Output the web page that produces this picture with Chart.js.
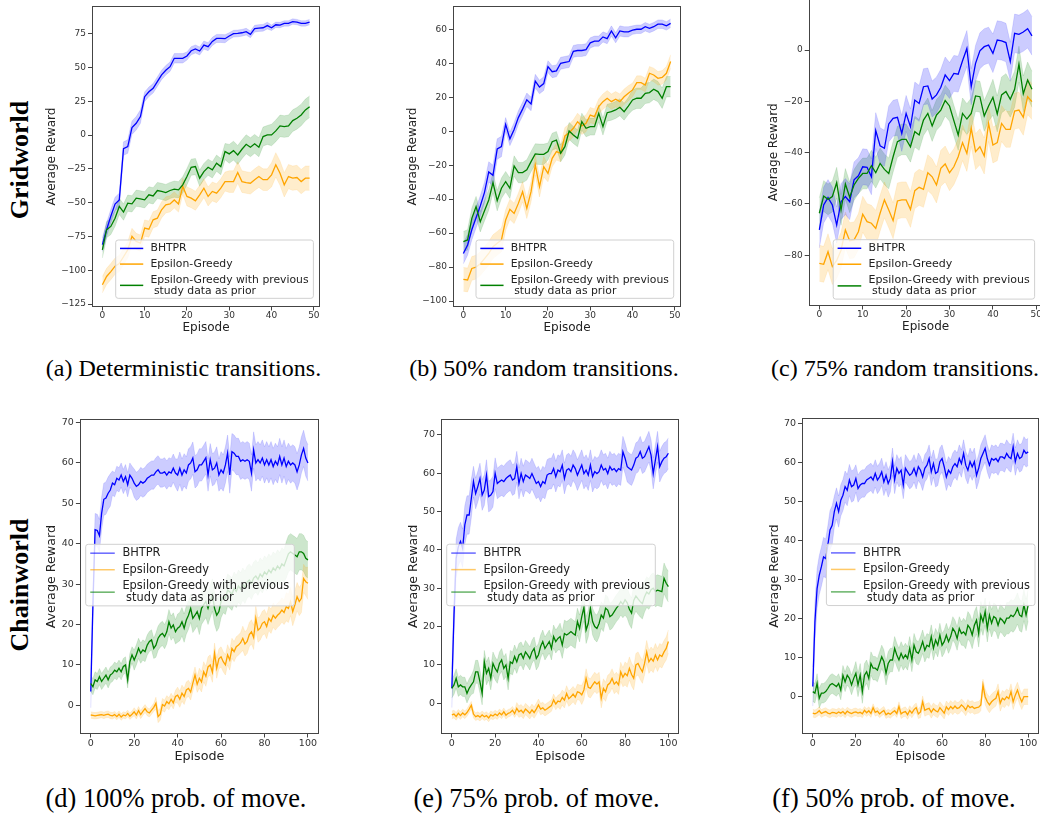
<!DOCTYPE html>
<html><head><meta charset="utf-8">
<script src="https://cdn.jsdelivr.net/npm/chart.js@4"></script>
<style>
html,body{margin:0;padding:0;width:1040px;height:814px;overflow:hidden;background:#fff;}
.cap{position:absolute;font-family:"Liberation Serif","Times New Roman",serif;font-size:24px;color:#000;white-space:nowrap;transform:translateX(-50%);line-height:24px;}
.cap2{font-size:26.4px;line-height:26px;}
.row{position:absolute;font-family:"Liberation Serif","Times New Roman",serif;font-weight:bold;font-size:26px;color:#000;white-space:nowrap;line-height:26px;transform:translate(-50%,-50%) rotate(-90deg);}
</style></head><body>
<div class="row" style="left:20px;top:160px">Gridworld</div>
<div class="row" style="left:20px;top:585px">Chainworld</div>
<div class="cap" style="left:183.5px;top:356px">(a) Deterministic transitions.</div>
<div class="cap" style="left:544px;top:356px">(b) 50% random transitions.</div>
<div class="cap" style="left:905px;top:356px">(c) 75% random transitions.</div>
<div class="cap cap2" style="left:176px;top:785px">(d) 100% prob. of move.</div>
<div class="cap cap2" style="left:536.5px;top:785px">(e) 75% prob. of move.</div>
<div class="cap cap2" style="left:894px;top:785px">(f) 50% prob. of move.</div>
<script>
// ---------- labels & ticks ----------
const seriesNames = ['BHTPR', 'Epsilon-Greedy', 'Epsilon-Greedy with previous\n study data as prior'];
const yTicksA = [-125, -100, -75, -50, -25, 0, 25, 50, 75];
const yTicksB = [-100, -80, -60, -40, -20, 0, 20, 40, 60];
const yTicksC = [-80, -60, -40, -20, 0];
const yTicksChain = [0, 10, 20, 30, 40, 50, 60, 70];
const xTicksGrid = [0, 10, 20, 30, 40, 50];
const xTicksChain = [0, 20, 40, 60, 80, 100];

// ---------- (a) Gridworld, deterministic ----------
const gridDetBHTPR = [-81,-70,-60,-51,-48,-10,-8.5,5.5,8.7,13.7, 28.4,32,34.6,39.5,44.5,48,50.6,56.8,56.8,56.8, 58.5,62.4,63.7,62.2,66.6,65.4,69.3,71.5,71.5,71.3, 73.3,75,75.2,75.7,76.5,74.5,78.7,79.2,79.4,81, 79.4,81.6,81.4,82.6,82.6,84,83.6,82.6,82.6,83.6];
const gridDetEG = [-110.7,-104.6,-101,-97,-95,-90,-85,-75,-78.7,-80, -68.8,-69.6,-62.7,-61.5,-55.3,-51.6,-50.9,-48,-51,-38, -45.4,-46.7,-48.6,-44.2,-39.3,-45.4,-41.7,-43,-39.3,-34.4, -34.4,-34.4,-27.7,-34.4,-35.1,-35.6,-33,-30.7,-33,-33, -29.4,-22,-28.2,-36.8,-30.7,-31.9,-31.4,-34.4,-31.9,-31.9];
const gridDetPrior = [-84.9,-70,-67.6,-61.5,-52.8,-57,-50.4,-50.9,-46.7,-47.2, -47.9,-44.2,-45,-41,-41.7,-42.5,-41,-40,-40.5,-36.8, -30.7,-23.8,-23.3,-31.9,-27,-23.8,-25.7,-20.8,-23.3,-12.2, -13.9,-11.5,-14.7,-10.5,-6.8,-9,-6.5,-9,-1.1,0.1, 0.1,3.1,6.8,6.3,6.8,10.7,12.4,14.9,18.6,21];
const gridDetBHTPRsd = [5, 3.5, 3, 2.5, 2];
const gridDetEGsd = [6, 6, 7, 8, 9];
const gridDetPriorsd = [6, 6, 6, 7, 8];

// ---------- (b) Gridworld, 50% random ----------
const grid50BHTPR = [-72,-67,-58,-51,-44,-36,-24,-26,-10.5,-9, 4,-4.5,1,8,13,18.5,16,29.5,26,28, 38,35,35.5,40,40.5,41,47,47.5,47.5,48, 52,53,53,55.5,54.5,59,55,59,58.5,58.5, 59.5,60,60,61.5,60.5,61.5,63,63,62,63.5];
const grid50EG = [-87.2,-87.6,-80.8,-80,-78,-75,-72,-68,-66,-64, -52.3,-46,-48.4,-42.5,-35.6,-45.4,-35.6,-19.9,-32.7,-20.9, -24.8,-16,-12,-13,-2.8,-0.9,1.7,5.6,3.1,4.6, 9.5,8.6,14.5,17.4,19.4,17.4,18.8,17.4,20.3,22.3, 24.3,28.6,28.6,27.2,34.1,33.1,31.1,31.7,34.1,41];
const grid50Prior = [-65,-64,-51.3,-44.4,-53.3,-46.8,-40.5,-30.3,-40.9,-33.6, -29.7,-33.6,-20.5,-24.4,-24.4,-22.8,-17.9,-13.4,-13.6,-13.6, -12,-6.2,-5.2,-13,-9.1,0.1,-2.2,-4.2,5.6,1.7, 2.7,2.7,10.5,2.7,10.9,11.5,12.5,14.1,11.5,14.8, 18.4,19.4,19.4,22.3,22.7,24.7,23.3,19.4,26.2,26.2];
const grid50BHTPRsd = [6, 4, 3.5, 3, 2.5];
const grid50EGsd = [7, 6, 5, 4.5, 4];
const grid50Priorsd = [6, 6, 5, 5, 6];

// ---------- (c) Gridworld, 75% random ----------
const grid75BHTPR = [-70.1,-60.4,-57.5,-60.4,-68.2,-59.1,-57.1,-59.1,-50.6,-49, -45.5,-45.7,-49.4,-31.4,-37.3,-38.3,-28.8,-26.6,-26.2,-32.5, -24.7,-29.9,-19.5,-20.8,-14.3,-14,-19.1,-17.5,-14.5,-9.7, -11.9,-9.1,-9.4,-4.2,0.6,-14.3,-5.2,-0.3,1.3,1.9, -1.3,3.9,3.6,2.9,-4.5,6.5,6.1,7,8.3,5.5];
const grid75EG = [-83.1,-83.5,-78.6,-84.4,-82,-78,-70.1,-74.3,-74,-70.8, -64,-66.9,-67.5,-69.5,-63.6,-58.4,-62.3,-66.5,-58.8,-58.4, -58.4,-62.1,-54.8,-53.5,-54.3,-47.8,-49.4,-52.6,-46.1,-44.4, -47.8,-45.5,-41.6,-36.1,-40.3,-30.5,-39.6,-37.7,-41.3,-28.6, -37,-36.1,-28.6,-30.9,-30.9,-23.8,-23.4,-26.2,-18.2,-20.1];
const grid75Prior = [-63.6,-56.9,-58.2,-57.1,-51.7,-62.3,-52.2,-57.4,-52.6,-50, -48.1,-48.1,-45.1,-47.8,-44.2,-46.5,-48.1,-41.6,-35.7,-34.8, -34.8,-37.7,-31.8,-33.1,-27.3,-24.7,-29.6,-25.3,-23.4,-19.7, -21.8,-27.5,-33.1,-24.7,-26.9,-24.7,-17.9,-18.2,-25.7,-21.8, -18.4,-24.9,-17.5,-16.2,-19.2,-15.3,-5.5,-17.1,-11.7,-15.3];
const grid75BHTPRsd = [7, 7, 7, 7, 7.5];
const grid75EGsd = [7, 7, 7, 7, 7];
const grid75Priorsd = [6, 6, 6, 6, 7];

// ---------- (d) Chainworld, 100% move ----------
const chain100BHTPR = [3.4,25,43.5,43.3,42,47.5,51,51.3,52.5,53.3, 55,54.6,56.2,55.8,57,55.4,56.6,54.6,57,56.2, 55,54.2,54.6,55.4,55,55.4,56.2,56.6,57,57, 57.8,58.3,57.5,57.5,57.8,57,57.8,57.5,58.7,57.5, 57,58.7,57,58.3,57.5,59.5,60,61.2,57.8,58.3, 59.5,59.5,60.4,61.3,57,60.8,58.3,58.7,60,57, 58.3,57.5,59.5,62.4,57,62.8,62.4,61.6,61.6,60.4, 60.8,60.4,60.8,60.4,57.5,63.2,60,60.8,60,61.2, 59.5,60.8,59.5,60.8,59.1,60.4,59.5,61.6,59.5,61.2, 59.1,60.4,59.5,60,59.5,57.8,59.5,62,63.6,61.2, 60];
const chain100EG = [-2.4,-2.5,-2.6,-2.5,-2.4,-2.3,-2.5,-2.3,-2.2,-2.5, -2.6,-2.3,-2.8,-2.2,-2.9,-2.4,-2.6,-2,-2.7,-2.2, -1.6,-2.4,-1.3,-2.3,-1.5,-0.8,-1.6,-1.9,-1.2,-0.5, 0.5,-2.8,-2.2,0.2,-0.2,0.9,0.4,1.5,0.6,2.2, 2.5,1.5,3,2.2,3.8,4.2,3.3,5.5,7.5,5.2, 6.7,5.8,8.3,7.2,9.5,10,8.2,12.9,9.2,11.5, 12,10.8,10,12.5,11.2,14.1,13.3,14.5,14.9,15.5, 16.6,15.2,15.8,17.5,18.2,16.8,21.5,18.6,19.1,20.3, 20.7,19.5,21.5,20.8,22.3,21.6,22.3,22.8,23.6,23, 24.4,24,25.7,23.2,24.9,26.9,25.7,26.5,31.4,30.6, 30.2];
const chain100Prior = [5.4,4.6,6.3,5.9,7.1,5.9,6.7,7.5,6.3,7.5, 7.9,8.7,8.3,9.2,8.3,9.6,10,6.3,10.8,12.5, 11.2,12.5,14.1,12.9,13.7,13.3,14.9,15.8,16.2,14.1, 14.9,16.6,17.4,17.8,17,18.2,20.7,19.1,19.9,18.2, 19.1,19.5,20.7,19.1,21.1,22.3,24,21.5,22.3,23.2, 21.5,24,24.9,25.7,24,25.7,27.3,24,22.3,23.2, 25.7,26.9,26.5,28.5,28.1,27.5,29,28.2,29.5,28.8, 30,29.2,30.5,31,30.2,31.5,32,31.2,32.5,31.8, 33,32.4,33.5,32.8,34,33.4,34.5,33.8,35,34.5, 36,37.5,38,37.6,37.2,36.8,38,38,37.6,36.4, 36];
const chain100BHTPRsd = [4, 3, 3.5, 3.5, 4, 4, 4.5, 4.5, 4.5, 4.5, 4.5];
const chain100EGsd = [0.8, 0.8, 1, 1.5, 2, 2.5, 2.5, 3, 3, 3.5, 4];
const chain100Priorsd = [2, 2, 2.5, 3, 3.5, 4, 4, 4, 4, 4.5, 4.5];

// ---------- (e) Chainworld, 75% move ----------
const chain75BHTPR = [3.9,23,37.8,40.8,42.2,40.4,46.5,49.1,49.1,53.4, 57.8,54.7,56.5,58.6,54.3,55.6,59.5,53.9,54.3,55.2, 60,57.3,57.8,58.2,57.8,58.6,59.1,59.5,58.2,58.6, 61.7,57.3,59.9,57.8,59.5,59.1,58.6,59.9,58.6,57.3, 57.8,56.5,57.8,57.3,59.5,59.9,59.9,61.2,59.1,60.8, 60.4,62.1,58.6,60.8,61.2,60.4,62.1,61.2,59.5,60.8, 62.1,59.9,60.8,59.5,62.1,59.1,60.4,59.9,60.4,62.1, 60.8,61.2,59.9,61.7,60.8,61.2,60.4,61.2,60.8,65.6, 63.9,61.7,61.2,60.8,62.1,63.9,64.3,65.6,63.9,64.3, 65.6,66.9,64.7,59.9,63.4,66.9,61.7,63,63.9,64.3, 65.2];
const chain75EG = [-3,-2.8,-3.4,-2.6,-3.2,-2.5,-3,-2.4,-1.5,-0.5, -2.8,-3.5,-3.2,-3.6,-3,-3.5,-3.2,-3.8,-3,-3.3, -2.8,-3.2,-2.5,-3,-2.2,-3.1,-2.6,-2.4,-1.8,-2.7, -1.3,-2.2,-1.8,-2.5,-1.5,-2,-2.6,-1.7,-2.4,-1.5, -0.4,-1.5,-1.2,-1.8,-1.4,-1,-0.6,0.9,-0.2,0.6, 0.4,1.5,0.8,2.6,1.2,1.7,2.4,1.6,3,2.8, 2.2,3.5,6.5,4.2,3.9,4.8,5.6,5,5.6,1.3, 3.9,3,4.8,5.3,6.5,5,5.6,4.8,8.2,6.8, 7.8,7.2,9.1,7.5,6.5,10,10.4,9.2,8.2,10.4, 13.4,10.8,11.7,11,12.6,11.3,12.6,12.2,13.4,14.3, 16.1];
const chain75Prior = [3.9,4.8,6.5,4.3,4.8,4.3,4.3,2.6,3.9,4.8, 5.6,8.2,8.2,5.6,2.6,10.8,7.8,9.1,6.5,10.4, 9.1,8.2,10.4,11.3,9.1,10,6.5,10.8,10.4,12.2, 10.8,12.6,13,11.7,13.4,12.6,11.7,13.4,14.3,11.7, 12.6,14.8,16.1,14.3,15.2,16.1,14.3,17.4,16.1,16.9, 17.4,15.2,18.2,17.8,18.2,18.7,18.2,17.8,21.3,19.5, 22.6,25,19.1,20.8,24.8,21.3,20,19.5,20.8,23, 22.2,24.8,24.3,22.6,23,23.9,24.8,25.5,26.5,25.8, 27,26.2,24.5,23.5,26.8,28,27.2,26.5,26,27.8, 29,28.5,29.6,30,29.2,29.5,29.3,29.1,32.6,31.3, 30.4];
const chain75BHTPRsd = [5, 4, 4, 4, 4, 4, 4, 4, 4, 4, 4];
const chain75EGsd = [1, 1, 1, 1.5, 1.5, 2, 2.5, 2.5, 3, 3, 3];
const chain75Priorsd = [2.5, 3, 3, 3, 3, 3.5, 3.5, 3.5, 4, 4, 4];

// ---------- (f) Chainworld, 50% move ----------
const chain50BHTPR = [2.6,19.2,27.7,31.1,33.3,35.8,35.4,38.8,42.7,43.9, 47.4,49.5,47.4,50.3,51.6,53.8,52.9,55.5,53.8,54.2, 55.9,53.3,54.2,54.6,54.6,55.5,55.9,56.3,55.5,57.2, 55.5,56.3,57.6,55,56.7,54.6,55.9,60.2,55.5,58.5, 57.2,58,54.2,58.5,57.6,56.7,57.2,58.5,56.7,58.9, 58,56.3,58.5,59.3,61,57.6,59.7,57.2,57.6,60.2, 61,58.9,56.3,58,57.2,58.9,59.7,58.9,61,59.7, 62.3,59.3,58,60.2,58.9,60.2,56.7,58.5,61,62.3, 63.6,61,59.3,61,60.6,61,60.2,61.4,61.4,61, 62.3,61.4,61,64,60.2,62.3,61,61.4,63.1,62.3, 62.7];
const chain50EG = [-4.2,-4.4,-4.1,-3.6,-4.3,-4,-3.8,-4.2,-4.4,-4, -4.1,-4.3,-3.9,-4.2,-3.8,-4.4,-3.7,-4.1,-4.3,-4, -3.9,-4.2,-4,-4.4,-3.5,-4.1,-3.6,-4.3,-2.8,-4, -3.7,-4.4,-3.9,-3.5,-4.6,-4.2,-4.5,-4,-3.6,-4.3, -2.5,-4.4,-4,-3.8,-4.6,-3.5,-4.2,-3.3,-2.8,-4.4, -3.9,-1.3,-3.5,-3.2,-3,-4,-3.1,-3.6,-3.9,-2.8, -3.5,-4.2,-2.6,-3.3,-2.5,-3.1,-2.4,-3,-2.8,-2.1, -2.6,-3.4,-2.2,-2.8,-2.5,-3,-2.8,-2.7,-2.1,3, 0,-1.3,-2.1,-1.3,-0.8,-0.4,1.3,-1.7,-0.4,-0.8, 0,-0.5,1.3,-1.3,0.4,1.7,0,-1.3,0,0, 0];
const chain50Prior = [1.3,0.9,3.4,-0.4,0.9,0.9,1.3,2.1,3,3.4, 3,2.6,3.4,1.7,5.5,3.8,5.5,4.7,3,4.7, 6,3,5.5,1.3,5.5,6.4,4.7,8.5,7.3,7.3, 6.8,8.5,10.2,9,6,8.5,9.4,9.4,12.4,10.7, 9.4,11.1,9.8,10.7,9.8,12.4,9.4,13.2,11.5,11.1, 12.4,14.1,11.9,13.2,12.8,15.4,12.4,14.5,13.2,15.8, 13.2,14.1,15.8,14.1,15.4,17.5,16.6,14.9,17.5,16.2, 16.6,15.8,18.3,17.5,15.8,18.3,19.6,16.2,20.9,19.2, 21.8,17.5,20.9,18.8,20.5,20.1,18.3,20.1,19.6,18.8, 20.1,20.1,20.9,20.5,21.3,22.6,20.9,20.5,23.5,20.9, 23.5];
const chain50BHTPRsd = [5, 4, 3.5, 3.5, 3.5, 3.5, 3.5, 3.5, 3.5, 3.5, 3.5];
const chain50EGsd = [1, 1, 1, 1, 1.2, 1.5, 1.5, 1.5, 2, 2, 2];
const chain50Priorsd = [2.5, 2.5, 3, 3, 3, 3, 3, 3.5, 3.5, 4, 4];

// ---------- drawing ----------
const COLORS = [[0,0,255],[255,165,0],[0,128,0]];
const rgba = (c, a) => `rgba(${c[0]},${c[1]},${c[2]},${a})`;
const fmt = v => (v < 0 ? '\u2212' + Math.abs(v) : String(v));

const legendPlugin = {
  id: 'mplLegend',
  afterDatasetsDraw(chart, args, o) {
    if (!o || !o.size) return;
    const ctx = chart.ctx, ca = chart.chartArea, f = o.size;
    const x0 = ca.left + o.left, y0 = ca.top + o.top;
    ctx.save();
    ctx.font = f + 'px "DejaVu Sans"';
    const entries = seriesNames.map(s => s.split('\n'));
    const tw = Math.max(...entries.flat().map(t => ctx.measureText(t).width));
    const w = 3.22 * f + tw + 0.45 * f, h = 5.4 * f, r = 2.5;
    ctx.beginPath();
    ctx.moveTo(x0 + r, y0); ctx.lineTo(x0 + w - r, y0); ctx.arcTo(x0 + w, y0, x0 + w, y0 + r, r);
    ctx.lineTo(x0 + w, y0 + h - r); ctx.arcTo(x0 + w, y0 + h, x0 + w - r, y0 + h, r);
    ctx.lineTo(x0 + r, y0 + h); ctx.arcTo(x0, y0 + h, x0, y0 + h - r, r);
    ctx.lineTo(x0, y0 + r); ctx.arcTo(x0, y0, x0 + r, y0, r); ctx.closePath();
    ctx.fillStyle = 'rgba(255,255,255,0.8)'; ctx.fill();
    ctx.strokeStyle = '#d0d0d0'; ctx.lineWidth = 1; ctx.stroke();
    const rows = [[0.78], [2.23], [3.68, 4.72]];
    ctx.textBaseline = 'middle'; ctx.textAlign = 'left'; ctx.fillStyle = '#222';
    entries.forEach((lines, k) => {
      const ys = rows[k].map(v => y0 + v * f);
      const hy = ys.reduce((a, b) => a + b, 0) / ys.length;
      ctx.strokeStyle = rgba(COLORS[k], o.alpha); ctx.lineWidth = 1.5;
      ctx.beginPath(); ctx.moveTo(x0 + 0.4 * f, hy); ctx.lineTo(x0 + 2.55 * f, hy); ctx.stroke();
      lines.forEach((t, j) => ctx.fillText(t, x0 + 3.22 * f, ys[j]));
    });
    ctx.restore();
  }
};
const spinePlugin = {
  id: 'spines',
  afterDraw(chart) {
    const ctx = chart.ctx, ca = chart.chartArea;
    ctx.save(); ctx.strokeStyle = '#444'; ctx.lineWidth = 1;
    const l = Math.round(ca.left) + 0.5, t = Math.round(ca.top) + 0.5;
    const r = Math.round(ca.right) - 0.5, b = Math.round(ca.bottom) - 0.5;
    ctx.strokeRect(l, t, r - l, b - t);
    ctx.restore();
  }
};

function makeChart(p) {
  const g = p.g, half = g.lab * 0.6;
  const left = Math.round(g.ytc - half);
  const wY = g.L - left;
  const top = Math.round(g.T - 12), pt = g.T - top;
  const right = Math.round(g.R + 8), pr = right - g.R;
  const bottom = Math.round(g.xtc + half), hX = bottom - g.B;
  const cv = document.createElement('canvas');
  cv.width = right - left; cv.height = bottom - top;
  cv.style.cssText = `position:absolute;left:${left}px;top:${top}px;width:${right - left}px;height:${bottom - top}px`;
  document.body.appendChild(cv);
  const datasets = [];
  p.series.forEach((s, k) => datasets.push({
    label: seriesNames[k], data: s[0].map((v, i) => ({x: i, y: v})),
    borderColor: rgba(COLORS[k], 1), borderWidth: 1.3, pointRadius: 0, fill: false, tension: 0, order: 3 - k
  }));
  p.series.forEach((s, k) => {
    const band = sign => s[0].map((v, i) => ({x: i, y: v + sign * s[1][Math.floor(i / 10)]}));
    datasets.push({label: '_hi', data: band(1), borderColor: rgba(COLORS[k], 0.15), borderWidth: 0.8,
      backgroundColor: 'rgba(0,0,0,0)', pointRadius: 0, fill: false, order: 5});
    datasets.push({label: '_lo', data: band(-1), borderColor: rgba(COLORS[k], 0.15), borderWidth: 0.8,
      backgroundColor: rgba(COLORS[k], 0.2), pointRadius: 0, fill: '-1', order: 5});
  });
  const axis = (ticksArr, title, pad, tl) => ({
    type: 'linear',
    afterBuildTicks: s => { s.ticks = ticksArr.map(v => ({value: v})); },
    grid: {display: true, drawOnChartArea: false, drawTicks: true, tickLength: tl, tickColor: '#444', tickWidth: 1},
    border: {display: false},
    ticks: {padding: pad, color: '#333', font: {family: 'DejaVu Sans', size: g.tick}, maxRotation: 0, minRotation: 0, autoSkip: false, callback: v => fmt(v)},
    title: {display: true, text: title, color: '#222', font: {family: 'DejaVu Sans', size: g.lab}, padding: 0}
  });
  const xs = axis(p.xTicks, 'Episode', 0, 3.5);
  xs.min = g.xmin; xs.max = g.xmax; xs.afterFit = s => { s.height = hX; };
  const ys = axis(p.yTicks, 'Average Reward', 2, 4);
  ys.min = g.ymin; ys.max = g.ymax; ys.afterFit = s => { s.width = wY; };
  new Chart(cv, {
    type: 'line',
    data: {datasets},
    options: {
      responsive: false, animation: false, devicePixelRatio: 1,
      layout: {padding: {top: pt, right: pr, bottom: 0, left: 0}},
      plugins: {legend: {display: false}, tooltip: {enabled: false}, mplLegend: p.leg},
      scales: {x: xs, y: ys}
    },
    plugins: [legendPlugin, spinePlugin]
  });
}

const panels = [
  {g: {L: 92, R: 320, T: 6, B: 307, xmin: -2.45, xmax: 51.45, ymin: -127.2, ymax: 95.5, ytc: 52, xtc: 327.4, tick: 9, lab: 12},
   leg: {left: 23.7, top: 234, size: 10.8, alpha: 1}, xTicks: xTicksGrid, yTicks: yTicksA,
   series: [[gridDetBHTPR, gridDetBHTPRsd], [gridDetEG, gridDetEGsd], [gridDetPrior, gridDetPriorsd]]},
  {g: {L: 453, R: 681, T: 6, B: 307, xmin: -2.45, xmax: 51.45, ymin: -103.5, ymax: 73.7, ytc: 413.3, xtc: 327.4, tick: 9, lab: 12},
   leg: {left: 23, top: 234, size: 10.8, alpha: 1}, xTicks: xTicksGrid, yTicks: yTicksB,
   series: [[grid50BHTPR, grid50BHTPRsd], [grid50EG, grid50EGsd], [grid50Prior, grid50Priorsd]]},
  {g: {L: 808.7, R: 1042.6, T: -1.3, B: 306, xmin: -2.45, xmax: 51.45, ymin: -99.75, ymax: 20, ytc: 774.2, xtc: 326.8, tick: 9, lab: 12},
   leg: {left: 24.5, top: 241, size: 11, alpha: 1}, xTicks: xTicksGrid, yTicks: yTicksC,
   series: [[grid75BHTPR, grid75BHTPRsd], [grid75EG, grid75EGsd], [grid75Prior, grid75Priorsd]]},
  {g: {L: 79.9, R: 318.8, T: 419.3, B: 734, xmin: -5, xmax: 105, ymin: -7.1, ymax: 70.8, ytc: 52, xtc: 756.2, tick: 9.5, lab: 12.7},
   leg: {left: 5.8, top: 125, size: 11.4, alpha: 0.6}, xTicks: xTicksChain, yTicks: yTicksChain,
   series: [[chain100BHTPR, chain100BHTPRsd], [chain100EG, chain100EGsd], [chain100Prior, chain100Priorsd]]},
  {g: {L: 441, R: 679.2, T: 418.7, B: 734, xmin: -5, xmax: 105, ymin: -8, ymax: 74.2, ytc: 413.7, xtc: 756.2, tick: 9.5, lab: 12.7},
   leg: {left: 5.7, top: 125.5, size: 11.4, alpha: 0.6}, xTicks: xTicksChain, yTicks: yTicksChain,
   series: [[chain75BHTPR, chain75BHTPRsd], [chain75EG, chain75EGsd], [chain75Prior, chain75Priorsd]]},
  {g: {L: 802, R: 1039, T: 418.3, B: 734, xmin: -5, xmax: 105, ymin: -9.55, ymax: 71.3, ytc: 774.7, xtc: 756.2, tick: 9.5, lab: 12.7},
   leg: {left: 24.4, top: 125.7, size: 11.4, alpha: 0.6}, xTicks: xTicksChain, yTicks: yTicksChain,
   series: [[chain50BHTPR, chain50BHTPRsd], [chain50EG, chain50EGsd], [chain50Prior, chain50Priorsd]]}
];
panels.forEach(makeChart);
</script>
</body></html>
